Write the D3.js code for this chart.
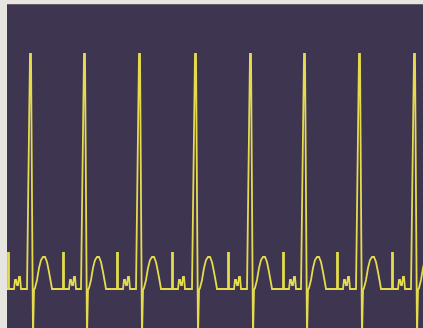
<!DOCTYPE html>
<html>
<head>
<meta charset="utf-8">
<script src="https://cdn.jsdelivr.net/npm/d3@7"></script>
<style>
  html, body { margin: 0; padding: 0; background: #e7e5e0; }
  svg { display: block; }
</style>
</head>
<body>
<svg id="scope" width="423" height="328"></svg>
<script>
// R peak times (ms), first one only shows its tail
const rPeaks = [-160, 115, 385, 660, 940, 1215, 1485, 1760, 2035];

// one beat, offsets from the R peak (ms)
const beatOffsets = [-15, 0, 5, 15, 20, 25, 35, 45, 55, 65, 75, 85, 95, 105, 110,
  165, 165, 170, 170, 195, 200, 205, 210, 215, 220, 225, 230, 255];
// amplitude at each offset (mV)
const beatValues = [-0.01, 2.34, 2.34, -0.5, -0.02, 0.0, 0.08, 0.2, 0.28, 0.31, 0.31, 0.26, 0.16, 0.05, -0.01,
  -0.01, 0.35, 0.35, -0.01, -0.01, 0.08, 0.08, 0.03, 0.03, 0.11, 0.11, -0.01, -0.01];

const timeDomain = [0, 2080];
const voltDomain = [-0.4, 2.84];

const width = 423;
const height = 328;
const screenLeft = 7;
const screenTop = 4;

let svg = d3.select("#scope");

let x = d3.scaleLinear().domain(timeDomain).range([screenLeft, width]);
let y = d3.scaleLinear().domain(voltDomain).range([height, screenTop]);

// screen
svg.append("rect")
  .attr("x", screenLeft)
  .attr("y", screenTop)
  .attr("width", width - screenLeft)
  .attr("height", height - screenTop)
  .attr("fill", "#3e3551");

svg.append("line")
  .attr("x1", screenLeft)
  .attr("x2", width)
  .attr("y1", screenTop + 0.5)
  .attr("y2", screenTop + 0.5)
  .style("stroke", "#6a5870")
  .attr("stroke-width", 1);

svg.append("clipPath")
  .attr("id", "screenClip")
  .append("rect")
  .attr("x", screenLeft)
  .attr("y", screenTop)
  .attr("width", width - screenLeft)
  .attr("height", height - screenTop);

// lay the beat down at every R peak
let trace = [];
rPeaks.forEach((r) => {
  beatOffsets.forEach((o, i) => {
    trace.push({ t: r + o, v: beatValues[i] });
  });
});

const line = d3.line()
  .x((d) => x(d.t))
  .y((d) => y(d.v));

svg.append("path")
  .datum(trace)
  .attr("clip-path", "url(#screenClip)")
  .attr("d", line)
  .attr("fill", "none")
  .style("stroke", "#e4dc4c")
  .attr("stroke-width", 1.8)
  .attr("stroke-linejoin", "miter");
</script>
</body>
</html>
